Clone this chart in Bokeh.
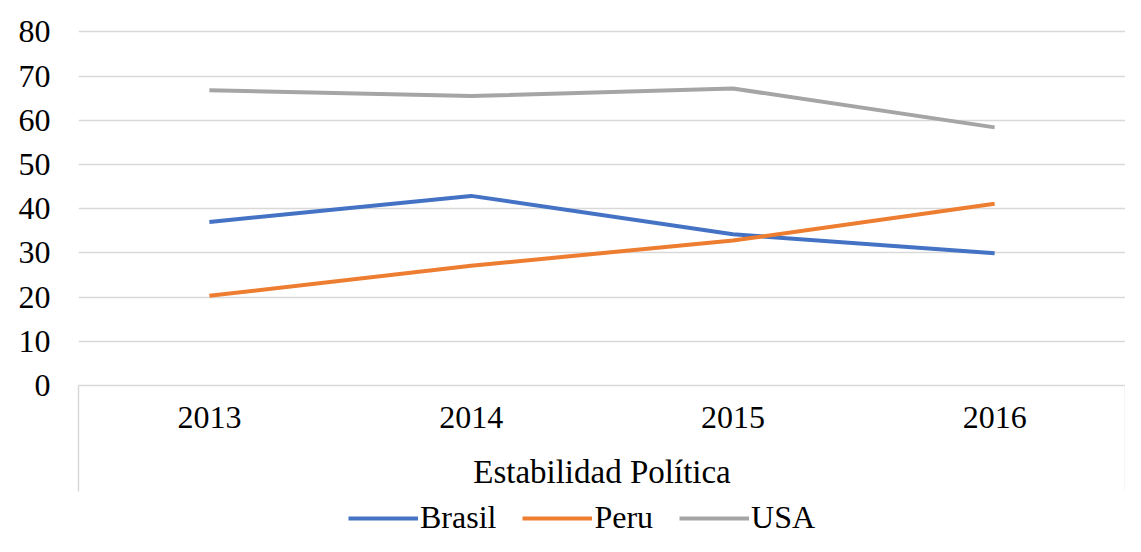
from bokeh.plotting import figure
from bokeh.layouts import column
from bokeh.models import Range1d, FixedTicker, Legend, LegendItem
from bokeh.embed import file_html
from bokeh.resources import INLINE

years = ["2013", "2014", "2015", "2016"]
xpos = [1, 2, 3, 4]
brasil = [37.0, 42.9, 34.2, 29.9]
peru = [20.3, 27.1, 32.8, 41.1]
usa = [66.8, 65.5, 67.2, 58.4]
yticks = [0, 10, 20, 30, 40, 50, 60, 70, 80]
series = [("Brasil", brasil, "#4472C4"), ("Peru", peru, "#ED7D31"), ("USA", usa, "#A5A5A5")]

FONT = "Liberation Serif"
GRID = "#d9d9d9"
W = 1125
H1 = 493
H2 = 43

p = figure(width=W, height=H1, output_backend="svg", toolbar_location=None,
           x_range=Range1d(0.5, 4.5), y_range=Range1d(0, 81))
p.min_border_left = 78
p.min_border_right = 0
p.min_border_top = 27
p.min_border_bottom = 108
p.outline_line_color = None

for name, vals, col in series:
    p.line(xpos, vals, line_color=col, line_width=4)

# x axis
xa = p.xaxis[0]
xa.ticker = FixedTicker(ticks=xpos, minor_ticks=[0.5, 4.5])
xa.major_label_overrides = {x: y for x, y in zip(xpos, years)}
xa.major_tick_out = 0
xa.major_tick_in = 0
xa.minor_tick_in = 0
xa.minor_tick_out = 106
xa.minor_tick_line_color = GRID
xa.minor_tick_line_width = 1.5
xa.axis_line_color = GRID
xa.axis_line_width = 1.5
xa.major_label_text_font = FONT
xa.major_label_text_font_size = "32px"
xa.major_label_text_color = "#000000"
xa.major_label_standoff = -85
xa.axis_label = "Estabilidad Política"
xa.axis_label_text_font = FONT
xa.axis_label_text_font_size = "33px"
xa.axis_label_text_font_style = "normal"
xa.axis_label_text_color = "#000000"
xa.axis_label_standoff = 23

# y axis
ya = p.yaxis[0]
ya.ticker = FixedTicker(ticks=yticks)
ya.axis_line_color = None
ya.major_tick_line_color = None
ya.major_tick_out = 0
ya.major_tick_in = 0
ya.minor_tick_line_color = None
ya.major_label_text_font = FONT
ya.major_label_text_font_size = "32px"
ya.major_label_text_color = "#000000"
ya.major_label_standoff = 28

p.xgrid.grid_line_color = None
p.ygrid.ticker = FixedTicker(ticks=yticks[1:])
p.ygrid.grid_line_color = GRID
p.ygrid.grid_line_width = 1.5

# legend strip
p2 = figure(width=W, height=H2, output_backend="svg", toolbar_location=None,
            x_range=Range1d(100, 101), y_range=Range1d(100, 101),
            x_axis_type=None, y_axis_type=None)
p2.min_border = 0
p2.outline_line_color = None
p2.xgrid.grid_line_color = None
p2.ygrid.grid_line_color = None
items = []
for name, vals, col in series:
    r = p2.line(xpos, vals, line_color=col, line_width=4)
    items.append(LegendItem(label=name, renderers=[r]))

legend = Legend(items=items, orientation="horizontal", location=(270, 0))
legend.label_text_font = FONT
legend.label_text_font_size = "32px"
legend.label_text_color = "#000000"
legend.glyph_width = 70
legend.label_standoff = 2
legend.spacing = 26
legend.padding = 0
legend.margin = 0
legend.border_line_color = None
legend.background_fill_alpha = 0
p2.add_layout(legend, "center")

open("out.html", "w").write(file_html(column(p, p2, spacing=0), INLINE))
